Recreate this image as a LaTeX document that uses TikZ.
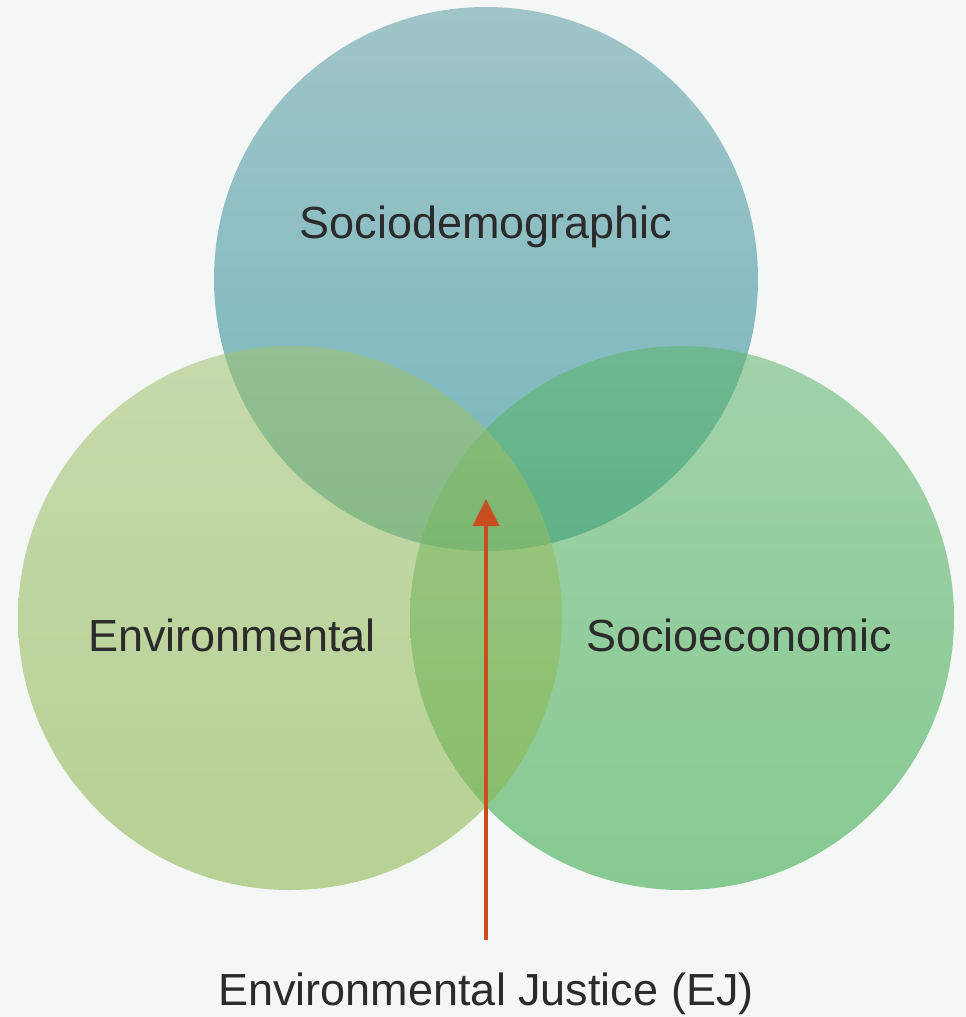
\documentclass[tikz,border=0pt]{standalone}
\usepackage{fontspec}
\setmainfont{Liberation Sans}
\usetikzlibrary{arrows.meta}
\definecolor{bg}{RGB}{245,247,246}
\definecolor{txt}{RGB}{43,43,43}
\definecolor{topA}{RGB}{90,156,164}
\definecolor{topB}{RGB}{14,131,141}
\definecolor{leftA}{RGB}{159,194,109}
\definecolor{leftB}{RGB}{134,178,68}
\definecolor{rightA}{RGB}{94,180,108}
\definecolor{rightB}{RGB}{43,165,63}
\definecolor{ejred}{RGB}{198,78,32}
\tikzset{
  venn/.style={circle, inner sep=0pt, minimum size=544pt, fill opacity=0.55, draw=none},
  lbl/.style={anchor=base, text=txt, font=\fontsize{45}{54}\selectfont, inner sep=0pt},
  ejarrow/.style={draw=ejred, line width=4.5pt, -{Triangle[width=26pt,length=27pt]}}
}
\begin{document}
\begin{tikzpicture}[x=1pt,y=-1pt]
\fill[bg] (0,0) rectangle (966,1017);
\useasboundingbox (0,0) rectangle (966,1017);
\node[venn, top color=topA, bottom color=topB] (socdem) at (486,279) {};
\node[venn, top color=rightA, bottom color=rightB] (soceco) at (682,618) {};
\node[venn, top color=leftA, bottom color=leftB] (env) at (290,618) {};
\node[lbl] (tsocdem) at (486,238) {Sociodemographic};
\node[lbl] (tenv) at (232,651) {Environmental};
\node[lbl] (tsoceco) at (739,651) {Socioeconomic};
\node[lbl] (tej) at (486,1005) {Environmental Justice (EJ)};
\coordinate (tail) at (486,940);
\coordinate (tip) at (486,499);
\draw[ejarrow] (tail) -- (tip);
\end{tikzpicture}
\end{document}
